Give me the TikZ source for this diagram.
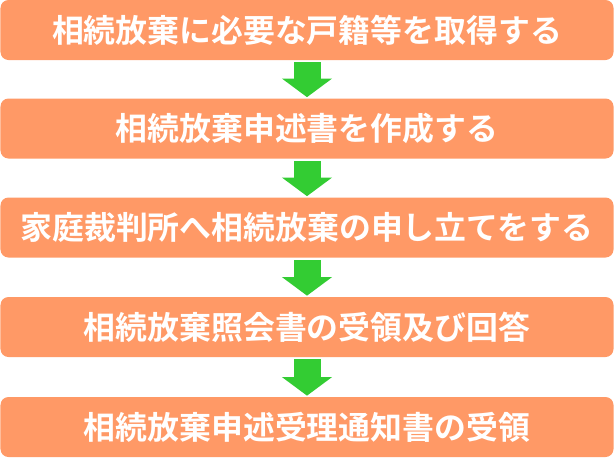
\documentclass[tikz,border=0pt]{standalone}
\usepackage{fontspec}
\usepackage{tikz}
\usetikzlibrary{arrows.meta}
\newfontfamily\jpfont{Noto Sans CJK JP}[BoldFont={Noto Sans CJK JP Bold}]
\definecolor{boxorange}{RGB}{255,153,102}
\definecolor{arrowgreen}{RGB}{51,204,51}

\begin{document}
\begin{tikzpicture}[x=0.75pt, y=-0.75pt,
        stepbox/.style = {fill=boxorange, rounded corners=6pt, minimum width=459.75pt,
            minimum height=45pt, inner sep=0pt, text=white,
            font=\jpfont\bfseries\fontsize{23.9pt}{26pt}\selectfont},
        flow/.style = {arrowgreen, line width=20.25pt, shorten <=1.5pt, shorten >=0.8pt,
            -{Triangle[width=37pt, length=14pt]}}]
        \useasboundingbox (0,0) rectangle (615,461);
        \node[stepbox] (s1) at (307,30) {相続放棄に必要な戸籍等を取得する};
        \node[stepbox] (s2) at (307,128.5) {相続放棄申述書を作成する};
        \node[stepbox] (s3) at (307,227.5) {家庭裁判所へ相続放棄の申し立てをする};
        \node[stepbox] (s4) at (307,327) {相続放棄照会書の受領及び回答};
        \node[stepbox] (s5) at (307,427) {相続放棄申述受理通知書の受領};
        \draw[flow] (s1.south) -- (s2.north);
        \draw[flow] (s2.south) -- (s3.north);
        \draw[flow] (s3.south) -- (s4.north);
        \draw[flow] (s4.south) -- (s5.north);
    \end{tikzpicture}
\end{document}
